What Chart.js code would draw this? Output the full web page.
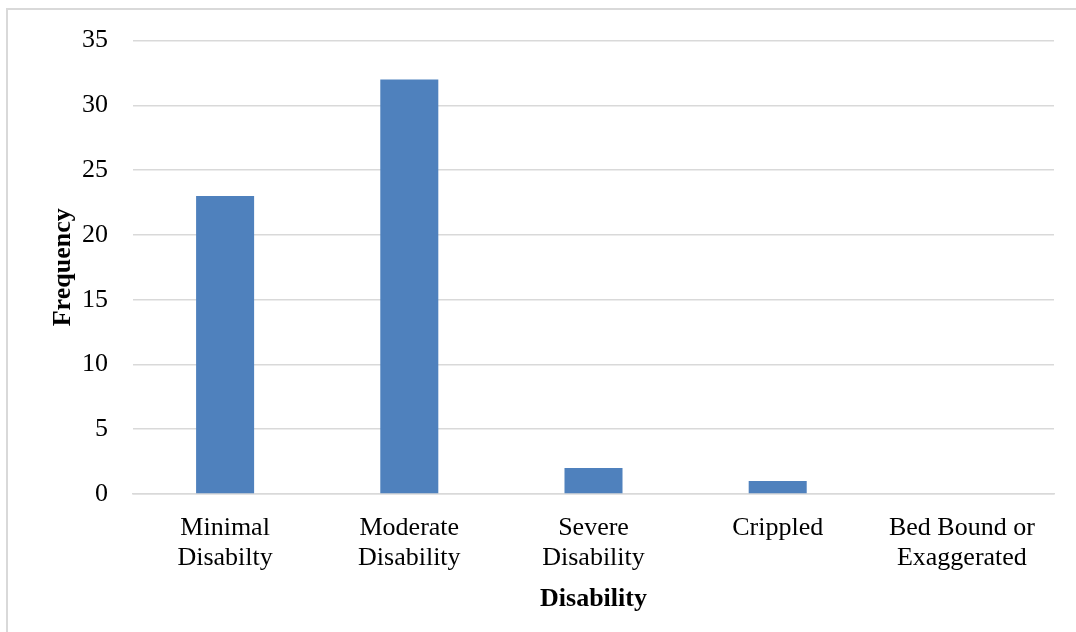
<!DOCTYPE html>
<html>
<head>
<meta charset="utf-8">
<style>
  html, body { margin: 0; padding: 0; background: #ffffff; }
  #wrap { position: relative; width: 1076px; height: 632px; }
  canvas { display: block; }
</style>
<script src="https://cdn.jsdelivr.net/npm/chart.js@4.4.1/dist/chart.umd.min.js"></script>
</head>
<body>
<div id="wrap"><canvas id="chart" width="1076" height="632"></canvas></div>
<script>
// Disability categories and how many respondents fall in each
const categories = [
  ["Minimal", "Disabilty"],
  ["Moderate", "Disability"],
  ["Severe", "Disability"],
  ["Crippled"],
  ["Bed Bound or", "Exaggerated"]
];
const frequencies = [23, 32, 2, 1, 0];
const yTicks = [0, 5, 10, 15, 20, 25, 30, 35];

const FONT = "'Liberation Serif', 'Times New Roman', serif";
const GRID = "#d9d9d9";

// Light frame along the top and left edges of the chart box
const framePlugin = {
  id: "frame",
  beforeDraw(chart) {
    const ctx = chart.ctx;
    ctx.save();
    ctx.fillStyle = "#ffffff";
    ctx.fillRect(0, 0, chart.width, chart.height);
    ctx.fillStyle = GRID;
    ctx.fillRect(6, 8, chart.width - 6, 2);
    ctx.fillRect(6, 8, 2, chart.height - 8);
    ctx.restore();
  }
};

new Chart(document.getElementById("chart"), {
  type: "bar",
  data: {
    labels: categories,
    datasets: [{
      label: "Frequency",
      data: frequencies,
      backgroundColor: "#4f81bd",
      borderWidth: 0,
      barPercentage: 0.63,
      categoryPercentage: 0.5
    }]
  },
  options: {
    responsive: false,
    animation: false,
    events: [],
    layout: { padding: { left: 8, right: 22, top: 39, bottom: 10 } },
    plugins: {
      legend: { display: false },
      tooltip: { enabled: false }
    },
    scales: {
      x: {
        grid: { display: false, drawTicks: false },
        border: { display: true, color: GRID, width: 1.5 },
        ticks: {
          color: "#000000",
          padding: 19,
          maxRotation: 0,
          autoSkip: false,
          font: { family: FONT, size: 26, lineHeight: 1.15 }
        },
        title: {
          display: true,
          text: "Disability",
          color: "#000000",
          padding: { top: 4, bottom: 7 },
          font: { family: FONT, size: 26, weight: "bold", lineHeight: 1.2 }
        },
        afterFit(scale) { scale.height = 128; }
      },
      y: {
        min: 0,
        max: 35,
        afterBuildTicks(scale) { scale.ticks = yTicks.map(v => ({ value: v })); },
        grid: { color: GRID, lineWidth: 1.5, drawTicks: false },
        border: { display: false },
        ticks: {
          color: "#000000",
          padding: 25,
          font: { family: FONT, size: 26 }
        },
        title: {
          display: true,
          text: "Frequency",
          color: "#000000",
          padding: { top: 40, bottom: 0 },
          font: { family: FONT, size: 26, weight: "bold", lineHeight: 1.2 }
        },
        afterFit(scale) { scale.width = 125; }
      }
    }
  },
  plugins: [framePlugin]
});
</script>
</body>
</html>
